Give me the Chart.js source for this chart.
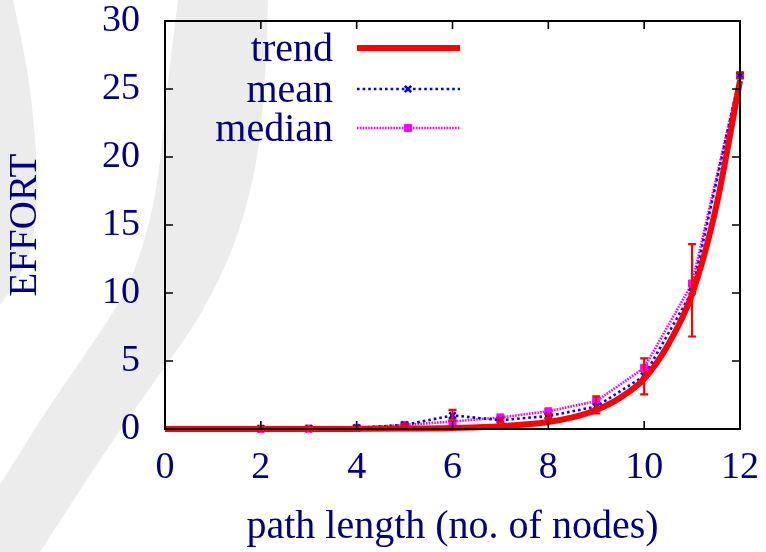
<!DOCTYPE html>
<html><head><meta charset="utf-8">
<script src="https://cdn.jsdelivr.net/npm/chart.js@4.4.0/dist/chart.umd.min.js"></script>
<style>html,body{margin:0;padding:0;background:#fff}</style>
</head><body>
<canvas id="c" width="766" height="552"></canvas>
<script>
// ---- data ----
const xValues      = [2, 3, 4, 5, 6, 7, 8, 9, 10, 11, 12];
const meanValues   = [0.02, 0.03, 0.08, 0.3, 1.0, 0.65, 0.95, 1.65, 3.9, 10.1, 26.0];
const medianValues = [0.02, 0.03, 0.08, 0.3, 0.55, 0.85, 1.3, 2.05, 4.5, 10.7, 26.0];
const errLow       = [0.0, 0.0, 0.04, 0.22, 0.6, 0.5, 0.8, 1.15, 2.55, 6.8, 25.8];
const errHigh      = [0.05, 0.06, 0.12, 0.38, 1.4, 0.8, 1.1, 2.4, 5.2, 13.6, 26.2];
const trendX       = [0, 1, 2, 3, 4, 5, 6, 7, 8, 8.5, 9, 9.5, 10, 10.5, 11, 11.5, 12];
const trendValues  = [0, 0, 0, 0, 0.01, 0.03, 0.08, 0.2, 0.52, 0.85, 1.4, 2.3, 3.7, 6.2, 9.9, 16.3, 25.6];
const xTicks = [0, 2, 4, 6, 8, 10, 12];
const yTicks = [0, 5, 10, 15, 20, 25, 30];
const seriesNames = ['trend', 'mean', 'median'];

const TEXT = '#000080';
const FONT = 'Liberation Serif';

function pts(xs, ys){ return xs.map((x,i)=>({x:x, y:ys[i]})); }

function smoothPath(ctx, p, cont){
  if (cont) ctx.lineTo(p[0][0], p[0][1]); else ctx.moveTo(p[0][0], p[0][1]);
  for (let i=1;i<p.length-1;i++){
    const mx=(p[i][0]+p[i+1][0])/2, my=(p[i][1]+p[i+1][1])/2;
    ctx.quadraticCurveTo(p[i][0], p[i][1], mx, my);
  }
  ctx.lineTo(p[p.length-1][0], p[p.length-1][1]);
}

const watermark = {
  id:'watermark',
  beforeDraw(chart){
    const ctx=chart.ctx;
    ctx.save();
    ctx.fillStyle='#fff';
    ctx.fillRect(0,0,chart.width,chart.height);
    ctx.fillStyle='#ececec';
    // outer thin band
    ctx.beginPath();
    ctx.moveTo(0,0);
    smoothPath(ctx,[[13,0],[27,63],[35,133],[38,190],[34,240],[20,278],[0,305]], true);
    ctx.closePath(); ctx.fill();
    // inner wide band
    ctx.beginPath();
    smoothPath(ctx,[[178,0],[170,63],[163,133],[156,195],[143,247],[125,295],[80,362],[40,420],[0,485]], false);
    ctx.lineTo(0,552);
    smoothPath(ctx,[[40,552],[100,458],[170,360],[203,312],[233,250],[251,190],[260,140],[266,70],[268,0]], true);
    ctx.closePath(); ctx.fill();
    ctx.restore();
  }
};

const errorBars = {
  id:'errorBars',
  afterDatasetDraw(chart, args){
    if (args.index !== 0) return;
    const ctx=chart.ctx, xs=chart.scales.x, ys=chart.scales.y;
    ctx.save();
    ctx.strokeStyle='#ff0000'; ctx.lineWidth=2.2;
    xValues.forEach((x,i)=>{
      const px=xs.getPixelForValue(x), y1=ys.getPixelForValue(errLow[i]), y2=ys.getPixelForValue(errHigh[i]);
      ctx.beginPath();
      ctx.moveTo(px,y1); ctx.lineTo(px,y2);
      ctx.moveTo(px-4,y1); ctx.lineTo(px+4,y1);
      ctx.moveTo(px-4,y2); ctx.lineTo(px+4,y2);
      ctx.stroke();
    });
    ctx.restore();
  }
};

const frame = {
  id:'frame',
  afterDraw(chart){
    const ctx=chart.ctx, a=chart.chartArea, xs=chart.scales.x, ys=chart.scales.y;
    ctx.save();
    ctx.strokeStyle='#000'; ctx.lineWidth=1.6;
    ctx.beginPath();
    xTicks.slice(1,-1).forEach(v=>{
      const p=xs.getPixelForValue(v);
      ctx.moveTo(p,a.bottom); ctx.lineTo(p,a.bottom-8);
      ctx.moveTo(p,a.top); ctx.lineTo(p,a.top+8);
    });
    yTicks.slice(1,-1).forEach(v=>{
      const p=ys.getPixelForValue(v);
      ctx.moveTo(a.left,p); ctx.lineTo(a.left+8,p);
      ctx.moveTo(a.right,p); ctx.lineTo(a.right-8,p);
    });
    ctx.stroke();
    ctx.lineWidth=2;
    ctx.strokeRect(a.left,a.top,a.right-a.left,a.bottom-a.top);
    ctx.restore();
  }
};

const keyBox = {
  id:'keyBox',
  afterDraw(chart){
    const ctx=chart.ctx;
    const rows=[48,89,128];
    ctx.save();
    ctx.font='40px "'+FONT+'"';
    ctx.fillStyle=TEXT; ctx.textAlign='right'; ctx.textBaseline='alphabetic';
    seriesNames.forEach((n,i)=>{ ctx.fillText(n,333,rows[i]+13); });
    chart.data.datasets.forEach((ds,i)=>{
      const y=rows[i];
      ctx.save();
      ctx.strokeStyle=ds.borderColor; ctx.lineWidth=ds.borderWidth;
      ctx.setLineDash(ds.borderDash||[]);
      ctx.beginPath(); ctx.moveTo(357,y); ctx.lineTo(460,y); ctx.stroke();
      ctx.setLineDash([]);
      if (ds.pointStyle && ds.pointRadius>0){
        ctx.fillStyle=ds.pointBackgroundColor; ctx.strokeStyle=ds.pointBorderColor;
        ctx.lineWidth=ds.pointBorderWidth;
        Chart.helpers.drawPoint(ctx,{pointStyle:ds.pointStyle,radius:ds.pointRadius,borderWidth:ds.pointBorderWidth,rotation:0},408,y);
      }
      ctx.restore();
    });
    ctx.restore();
  }
};

new Chart(document.getElementById('c'), {
  type:'line',
  data:{
    datasets:[
      {label:seriesNames[0], data:pts(trendX,trendValues), borderColor:'#ff0000', borderWidth:6,
       pointRadius:0, cubicInterpolationMode:'monotone', clip:false},
      {label:seriesNames[1], data:pts(xValues,meanValues), borderColor:'#0000ff', borderWidth:2.6,
       borderDash:[2.6,3], pointStyle:'crossRot', pointRadius:4.5, pointBorderWidth:2.6,
       pointBorderColor:'#0000ff', pointBackgroundColor:'#0000ff', clip:false},
      {label:seriesNames[2], data:pts(xValues,medianValues), borderColor:'#ff00ff', borderWidth:2.6,
       borderDash:[1.6,1.2], pointStyle:'rect', pointRadius:5, pointBorderWidth:1,
       pointBorderColor:'#ff00ff', pointBackgroundColor:'#ff00ff', clip:false}
    ]
  },
  options:{
    responsive:false, animation:false, devicePixelRatio:1,
    layout:{padding:{top:21,right:26,left:0,bottom:0}},
    plugins:{legend:{display:false}, tooltip:{enabled:false}},
    scales:{
      x:{type:'linear', min:0, max:12,
         afterFit(s){ s.height=123; s.paddingLeft=0; s.paddingRight=0; },
         afterBuildTicks(s){ s.ticks=xTicks.map(v=>({value:v})); },
         grid:{display:false, drawTicks:false}, border:{display:false},
         ticks:{color:TEXT, font:{family:FONT,size:38}, padding:16, maxRotation:0, autoSkip:false},
         title:{display:true, text:'path length (no. of nodes)', color:TEXT, font:{family:FONT,size:40}, padding:{top:0,bottom:1}}},
      y:{type:'linear', min:0, max:30,
         afterFit(s){ s.width=165; s.paddingTop=0; s.paddingBottom=0; },
         afterBuildTicks(s){ s.ticks=yTicks.map(v=>({value:v})); },
         grid:{display:false, drawTicks:false}, border:{display:false},
         ticks:{color:TEXT, font:{family:FONT,size:38}, padding:25, autoSkip:false},
         title:{display:true, text:'EFFORT', color:TEXT, font:{family:FONT,size:39}, padding:{top:2,bottom:0}}}
    }
  },
  plugins:[watermark, errorBars, frame, keyBox]
});
</script>
</body></html>
